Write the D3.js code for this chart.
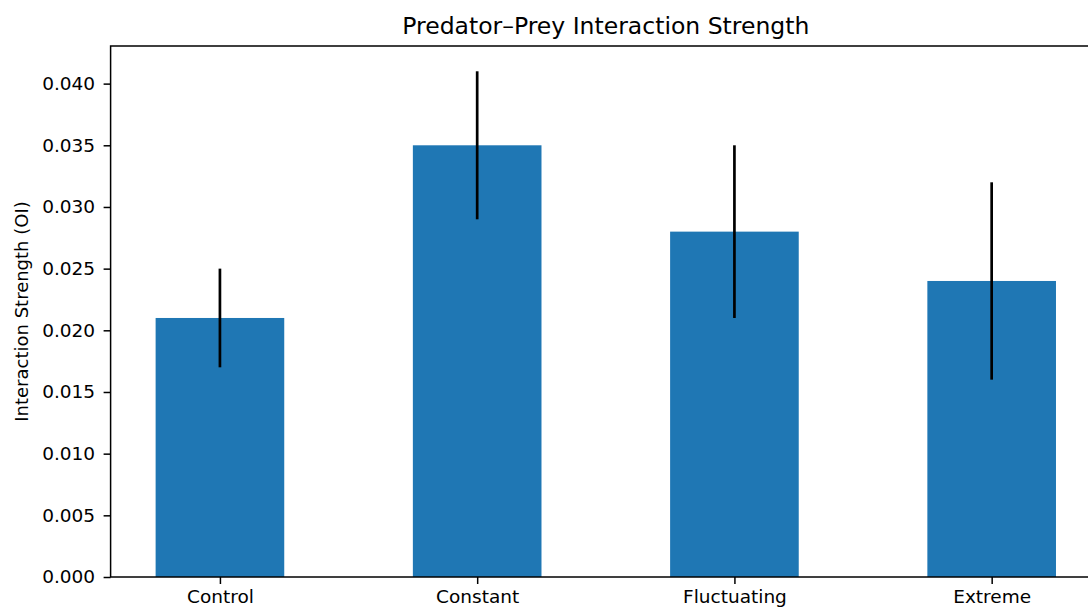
<!DOCTYPE html>
<meta charset="utf-8">
<script src="https://cdn.jsdelivr.net/npm/d3@7"></script>
<style>
body { margin: 0; background: #fff; }
text { font-family: "DejaVu Sans", sans-serif; fill: #000; }
.tick text { font-size: 18.5px; }
.tick line { stroke: #000; stroke-width: 1.5px; }
.domain { display: none; }
</style>
<body>
<script>
var categories = ["Control", "Constant", "Fluctuating", "Extreme"];
var values = [0.021, 0.035, 0.028, 0.024];
var errors = [0.004, 0.006, 0.007, 0.008];
var yTicks = [0, 0.005, 0.010, 0.015, 0.020, 0.025, 0.030, 0.035, 0.040];

var width = 1088, height = 608;
var mLeft = 110.6, mRight = 1101, mTop = 46, mBottom = 577;

var svg = d3.select("body").append("svg")
    .attr("width", width)
    .attr("height", height);

// matplotlib-like: bar width 0.5, x margin 5%
var x = d3.scaleLinear().domain([-0.425, 3.425]).range([mLeft, mRight]);
var ymax = d3.max(values.map(function(v, i) { return v + errors[i]; })) * 1.05;
var y = d3.scaleLinear().domain([0, ymax]).range([mBottom, mTop]);

svg.append("g")
    .selectAll("rect")
    .data(values)
    .enter().append("rect")
    .attr("x", function(d, i) { return x(i - 0.25); })
    .attr("width", function(d, i) { return x(i + 0.25) - x(i - 0.25); })
    .attr("y", function(d) { return y(d); })
    .attr("height", function(d) { return y(0) - y(d); })
    .attr("fill", "#1f77b4");

// error bars
svg.append("g")
    .selectAll("line")
    .data(values)
    .enter().append("line")
    .attr("x1", function(d, i) { return x(i); })
    .attr("x2", function(d, i) { return x(i); })
    .attr("y1", function(d, i) { return y(d - errors[i]); })
    .attr("y2", function(d, i) { return y(d + errors[i]); })
    .attr("stroke", "#000")
    .attr("stroke-width", 2.7);

// axes
svg.append("g")
    .attr("transform", "translate(" + mLeft + ",0)")
    .call(d3.axisLeft(y).tickValues(yTicks).tickFormat(d3.format(".3f")).tickSize(7).tickPadding(8.5));

svg.append("g")
    .attr("transform", "translate(0," + mBottom + ")")
    .call(d3.axisBottom(x).tickValues([0, 1, 2, 3]).tickFormat(function(d) { return categories[d]; }).tickSize(7).tickPadding(6));

// spines
svg.append("rect")
    .attr("x", mLeft).attr("y", mTop)
    .attr("width", mRight - mLeft).attr("height", mBottom - mTop)
    .attr("fill", "none")
    .attr("stroke", "#000")
    .attr("stroke-width", 1.5);

svg.append("text")
    .attr("x", (mLeft + mRight) / 2)
    .attr("y", mTop - 12)
    .attr("text-anchor", "middle")
    .attr("font-size", 23.5)
    .text("Predator–Prey Interaction Strength");

svg.append("text")
    .attr("transform", "translate(28," + (mTop + mBottom) / 2 + ") rotate(-90)")
    .attr("text-anchor", "middle")
    .attr("font-size", 18)
    .text("Interaction Strength (OI)");
</script>
</body>
